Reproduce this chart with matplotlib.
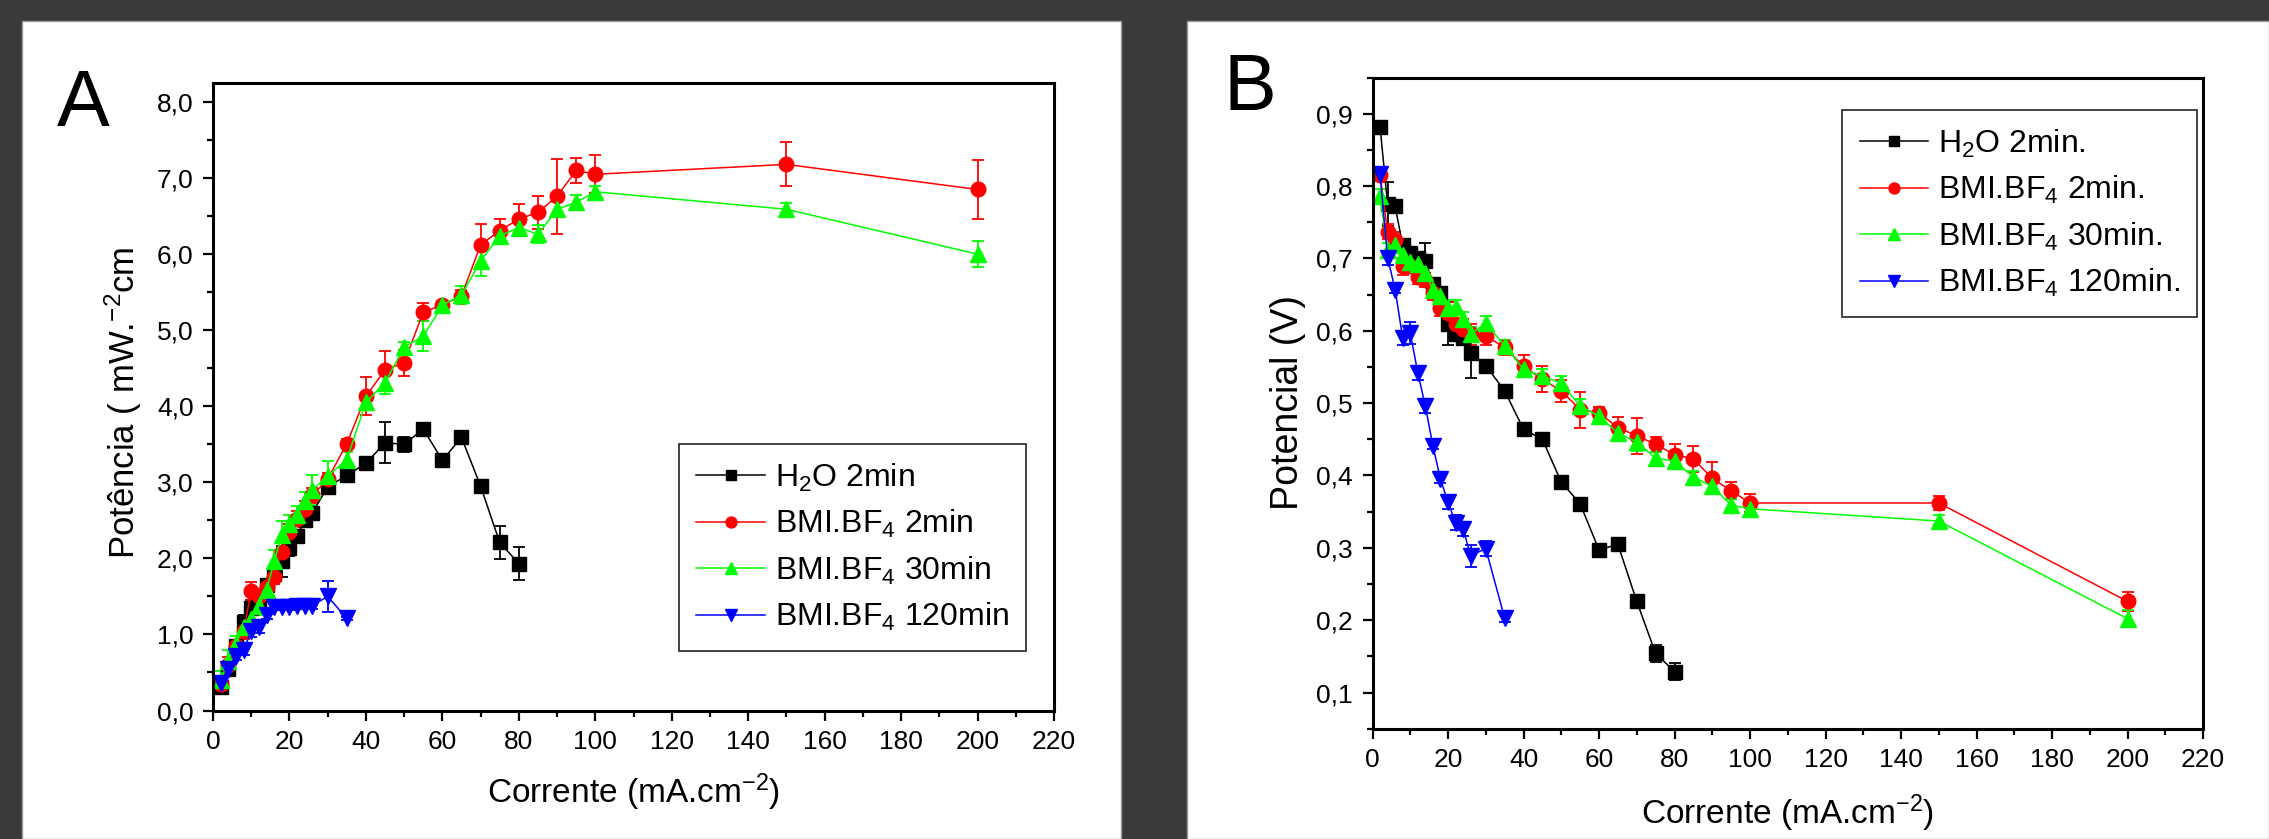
import matplotlib
matplotlib.use('Agg')
import matplotlib.pyplot as plt
from matplotlib.patches import Rectangle
from matplotlib.ticker import MultipleLocator, FuncFormatter

# ---- data ----
x_h2o = [2, 4, 6, 8, 10, 12, 14, 16, 18, 20, 22, 24, 26, 30, 35, 40, 45, 50, 55, 60, 65, 70, 75, 80]
x_bmi = [2, 4, 6, 8, 10, 12, 14, 16, 18, 20, 22, 24, 26, 30, 35, 40, 45, 50, 55, 60, 65, 70, 75, 80,
         85, 90, 95, 100, 150, 200]
x_120 = [2, 4, 6, 8, 10, 12, 14, 16, 18, 20, 22, 24, 26, 30, 35]

# panel A - power density
pot_h2o = [0.31, 0.55, 0.85, 1.17, 1.35, 1.45, 1.65, 1.80, 1.96, 2.13, 2.29, 2.50, 2.60, 2.94, 3.09,
           3.25, 3.52, 3.50, 3.70, 3.29, 3.59, 2.95, 2.21, 1.93]
pot_h2o_err = [0.05, 0.08, 0.06, 0.08, 0.10, 0.08, 0.08, 0.10, 0.20, 0.10, 0.06, 0.08, 0.08, 0.05, 0.04,
               0.06, 0.27, 0.10, 0.04, 0.03, 0.04, 0.04, 0.22, 0.22]
pot_bmi2 = [0.35, 0.60, 0.85, 1.04, 1.57, 1.50, 1.62, 1.76, 2.09, 2.35, 2.52, 2.65, 2.83, 3.04, 3.51,
            4.13, 4.48, 4.57, 5.24, 5.33, 5.45, 6.12, 6.31, 6.46, 6.55, 6.76, 7.10, 7.05, 7.18, 6.85]
pot_bmi2_err = [0.08, 0.10, 0.08, 0.10, 0.12, 0.10, 0.08, 0.10, 0.12, 0.10, 0.10, 0.10, 0.10, 0.08, 0.06,
                0.25, 0.25, 0.17, 0.12, 0.06, 0.08, 0.27, 0.15, 0.20, 0.22, 0.49, 0.17, 0.25, 0.29, 0.39]
pot_bmi30 = [0.40, 0.65, 0.88, 1.10, 1.20, 1.38, 1.58, 1.96, 2.31, 2.45, 2.57, 2.75, 2.90, 3.08, 3.30,
             4.05, 4.31, 4.78, 4.92, 5.33, 5.46, 5.91, 6.24, 6.35, 6.26, 6.59, 6.68, 6.82, 6.59, 6.00]
pot_bmi30_err = [0.12, 0.15, 0.10, 0.12, 0.10, 0.12, 0.12, 0.15, 0.18, 0.12, 0.12, 0.12, 0.20, 0.20, 0.10,
                 0.10, 0.15, 0.06, 0.20, 0.06, 0.12, 0.20, 0.10, 0.10, 0.12, 0.10, 0.10, 0.08, 0.08, 0.17]
pot_120 = [0.36, 0.55, 0.72, 0.79, 1.05, 1.10, 1.25, 1.36, 1.36, 1.36, 1.37, 1.37, 1.38, 1.50, 1.21]
pot_120_err = [0.05, 0.06, 0.06, 0.06, 0.08, 0.08, 0.05, 0.04, 0.04, 0.04, 0.04, 0.04, 0.04, 0.20, 0.02]

# panel B - potential
volt_h2o = [0.882, 0.775, 0.772, 0.718, 0.708, 0.700, 0.697, 0.665, 0.652, 0.610, 0.595, 0.590, 0.570,
            0.552, 0.517, 0.464, 0.450, 0.391, 0.361, 0.297, 0.305, 0.226, 0.154, 0.129]
volt_h2o_err = [0.005, 0.030, 0.005, 0.008, 0.005, 0.005, 0.025, 0.005, 0.008, 0.030, 0.008, 0.008, 0.035,
                0.005, 0.005, 0.005, 0.005, 0.005, 0.005, 0.005, 0.005, 0.005, 0.012, 0.012]
volt_bmi2 = [0.816, 0.737, 0.726, 0.689, 0.690, 0.675, 0.670, 0.652, 0.632, 0.625, 0.610, 0.602, 0.595,
             0.593, 0.577, 0.551, 0.533, 0.517, 0.491, 0.487, 0.466, 0.455, 0.443, 0.429, 0.423, 0.396,
             0.379, 0.362, 0.362, 0.226]
volt_bmi2_err = [0.008, 0.010, 0.010, 0.012, 0.010, 0.010, 0.010, 0.010, 0.012, 0.015, 0.015, 0.015, 0.015,
                 0.012, 0.010, 0.015, 0.018, 0.015, 0.025, 0.008, 0.015, 0.025, 0.010, 0.015, 0.018, 0.022,
                 0.012, 0.012, 0.010, 0.013]
volt_bmi30 = [0.786, 0.712, 0.719, 0.705, 0.695, 0.692, 0.680, 0.657, 0.648, 0.632, 0.633, 0.616, 0.595,
              0.611, 0.579, 0.547, 0.537, 0.528, 0.496, 0.482, 0.459, 0.446, 0.424, 0.420, 0.398, 0.385,
              0.359, 0.354, 0.337, 0.202]
volt_bmi30_err = [0.010, 0.010, 0.010, 0.010, 0.010, 0.010, 0.010, 0.010, 0.010, 0.010, 0.010, 0.010, 0.010,
                  0.010, 0.008, 0.010, 0.010, 0.010, 0.010, 0.008, 0.010, 0.012, 0.008, 0.008, 0.008, 0.010,
                  0.008, 0.008, 0.008, 0.012]
volt_120 = [0.817, 0.701, 0.657, 0.590, 0.597, 0.542, 0.496, 0.441, 0.395, 0.363, 0.335, 0.326, 0.289,
            0.299, 0.203]
volt_120_err = [0.010, 0.010, 0.005, 0.010, 0.015, 0.010, 0.010, 0.005, 0.005, 0.010, 0.010, 0.010, 0.015,
                0.010, 0.005]

labels_a = ['H$_2$O 2min', 'BMI.BF$_4$ 2min', 'BMI.BF$_4$ 30min', 'BMI.BF$_4$ 120min']
labels_b = ['H$_2$O 2min.', 'BMI.BF$_4$ 2min.', 'BMI.BF$_4$ 30min.', 'BMI.BF$_4$ 120min.']
colors = ['#000000', '#ff0000', '#00ff00', '#0000ff']
markers = ['s', 'o', '^', 'v']
msizes = [10, 10.5, 12, 12]

plt.rcParams['font.family'] = ['Liberation Sans', 'DejaVu Sans']
plt.rcParams['mathtext.fontset'] = 'custom'
plt.rcParams['mathtext.rm'] = 'Liberation Sans'
plt.rcParams['mathtext.it'] = 'Liberation Sans:italic'
plt.rcParams['mathtext.bf'] = 'Liberation Sans:bold'

W, H = 2269, 839
fig = plt.figure(figsize=(W / 100, H / 100), dpi=100, facecolor='#3a3a3a')
fig.patches.append(Rectangle((22 / W, 0), (1121 - 22) / W, (H - 21) / H, transform=fig.transFigure,
                             facecolor='white', edgecolor='#9a9a9a', lw=1, zorder=-5))
fig.patches.append(Rectangle((1187 / W, 0), (W - 1187) / W, (H - 21) / H, transform=fig.transFigure,
                             facecolor='white', edgecolor='#9a9a9a', lw=1, zorder=-5))

ax_a = fig.add_axes([213 / W, (H - 710.5) / H, 841 / W, 627.5 / H])
ax_b = fig.add_axes([1372.5 / W, (H - 728.7) / H, 830.5 / W, 651.1 / H])


def comma(v, pos):
    return f'{v:.1f}'.replace('.', ',')


series_a = [(x_h2o, pot_h2o, pot_h2o_err), (x_bmi, pot_bmi2, pot_bmi2_err),
            (x_bmi, pot_bmi30, pot_bmi30_err), (x_120, pot_120, pot_120_err)]
series_b = [(x_h2o, volt_h2o, volt_h2o_err), (x_bmi, volt_bmi2, volt_bmi2_err),
            (x_bmi, volt_bmi30, volt_bmi30_err), (x_120, volt_120, volt_120_err)]

for ax, series, labels in [(ax_a, series_a, labels_a), (ax_b, series_b, labels_b)]:
    handles = []
    for (xs, ys, es), c, m, ms in zip(series, colors, markers, msizes):
        eb = ax.errorbar(xs, ys, yerr=es, color=c, marker=m, ms=ms, mec=c, mfc=c, lw=1.1,
                         elinewidth=1.3, capsize=4.5, capthick=1.3)
        handles.append(eb.lines[0])
    leg = ax.legend(handles, labels, loc='upper left', fontsize=23, frameon=True, fancybox=False,
                    edgecolor='#222222', framealpha=1, borderaxespad=0, borderpad=0.55,
                    labelspacing=0.45, handlelength=2.15, handletextpad=0.3, markerscale=0.75)
    leg.get_frame().set_linewidth(1.2)
    ax.set_xlim(0, 220)
    ax.xaxis.set_major_locator(MultipleLocator(20))
    ax.xaxis.set_minor_locator(MultipleLocator(10))
    ax.yaxis.set_major_formatter(FuncFormatter(comma))
    ax.tick_params(which='both', direction='out', top=False, right=False, width=1.6, labelsize=19)
    ax.tick_params(which='major', length=7, pad=7)
    ax.tick_params(which='minor', length=4)
    for sp in ax.spines.values():
        sp.set_linewidth(2.2)

ax_a.set_ylim(0, 8.25)
ax_a.yaxis.set_major_locator(MultipleLocator(1))
ax_a.yaxis.set_minor_locator(MultipleLocator(0.5))
ax_a.legend_.set_bbox_to_anchor((0.554, 0.4247), transform=ax_a.transAxes)
ax_a.set_xlabel('Corrente (mA.cm$^{-2}$)', fontsize=24, va='center')
ax_a.xaxis.set_label_coords(0.5, -0.13)
ax_a.set_ylabel('Potência ( mW.$^{-2}$cm', fontsize=25, va='center')
ax_a.yaxis.set_label_coords(-0.1063, 0.491)

ax_b.set_ylim(0.05, 0.95)
ax_b.yaxis.set_major_locator(MultipleLocator(0.1))
ax_b.yaxis.set_minor_locator(MultipleLocator(0.05))
ax_b.legend_.set_bbox_to_anchor((0.5653, 0.9502), transform=ax_b.transAxes)
ax_b.set_xlabel('Corrente (mA.cm$^{-2}$)', fontsize=24, va='center')
ax_b.xaxis.set_label_coords(0.5, -0.1295)
ax_b.set_ylabel('Potencial (V)', fontsize=27, va='center')
ax_b.yaxis.set_label_coords(-0.1022, 0.5008)

fig.text(57 / W, (H - 126) / H, 'A', fontsize=57, va='baseline')
fig.text(1223 / W, (H - 110) / H, 'B', fontsize=57, va='baseline')

fig.savefig('out.png', dpi=100, facecolor=fig.get_facecolor())
